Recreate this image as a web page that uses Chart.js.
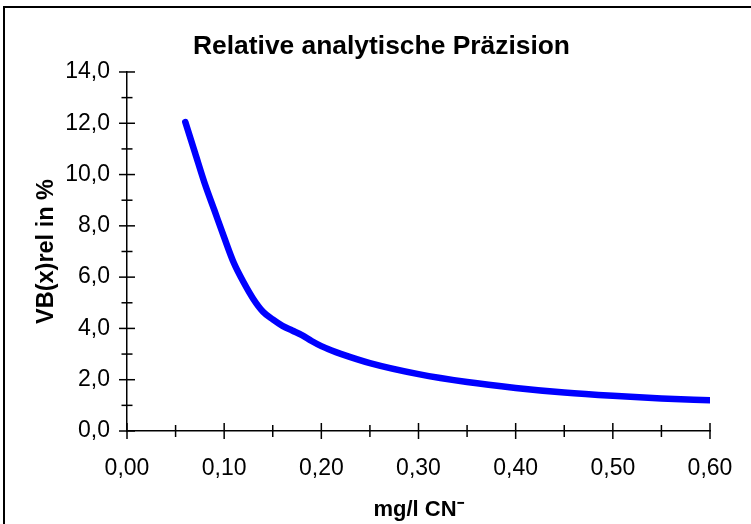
<!DOCTYPE html>
<html>
<head>
<meta charset="utf-8">
<script src="https://cdn.jsdelivr.net/npm/chart.js@4/dist/chart.umd.min.js"></script>
<style>
  html, body { margin: 0; padding: 0; background: #fff; overflow: hidden; }
  #wrap { position: relative; width: 751px; height: 524px; }
  #frame { position: absolute; left: 3px; top: 6px; width: 800px; height: 600px;
           border-top: 2px solid #000; border-left: 2px solid #000; pointer-events: none; }
</style>
</head>
<body>
<div id="wrap">
  <canvas id="precisionChart"></canvas>
  <div id="frame"></div>
</div>
<script>
// concentration mg/l CN- and relative precision in %
const concentrations = [0.06, 0.07, 0.08, 0.09, 0.10, 0.11, 0.12, 0.13, 0.14, 0.15, 0.16, 0.17,
                        0.18, 0.19, 0.20, 0.21, 0.22, 0.25, 0.30, 0.35, 0.40, 0.45, 0.50, 0.55, 0.60];
const vbRel = [12.05, 10.85, 9.65, 8.6, 7.55, 6.55, 5.8, 5.15, 4.65, 4.35, 4.1, 3.92,
               3.74, 3.51, 3.31, 3.15, 3.01, 2.65, 2.22, 1.91, 1.68, 1.5, 1.37, 1.27, 1.2];

const chartTitle = 'Relative analytische Präzision';
const yTitle = 'VB(x)rel in %';
const xTitle = 'mg/l CN\u207B';

const FONT = '"Liberation Sans", Arial, sans-serif';

// tick marks that cross the axis line (major long, minor short)
const crossTicks = {
  id: 'crossTicks',
  afterDraw(chart) {
    const ctx = chart.ctx;
    const xs = chart.scales.x, ys = chart.scales.y;
    ctx.save();
    ctx.strokeStyle = '#000';
    ctx.lineWidth = 1.5;
    ys.ticks.forEach(t => {
      const p = ys.getPixelForValue(t.value);
      const half = t.label !== '' ? 8 : 5.5;
      ctx.beginPath();
      ctx.moveTo(xs.left - half, p);
      ctx.lineTo(xs.left + half, p);
      ctx.stroke();
    });
    xs.ticks.forEach(t => {
      const p = xs.getPixelForValue(t.value);
      const half = t.label !== '' ? 8 : 6;
      ctx.beginPath();
      ctx.moveTo(p, ys.bottom - half);
      ctx.lineTo(p, ys.bottom + half);
      ctx.stroke();
    });
    ctx.restore();
  }
};

const ctx = document.getElementById('precisionChart').getContext('2d');
const myChart = new Chart(ctx, {
  type: 'line',
  data: {
    datasets: [{
      data: concentrations.map((c, i) => ({ x: c, y: vbRel[i] })),
      borderColor: '#0000ff',
      borderWidth: 6.5,
      borderCapStyle: 'round',
      pointRadius: 0,
      fill: false,
      cubicInterpolationMode: 'monotone'
    }]
  },
  options: {
    responsive: true,
    maintainAspectRatio: false,
    animation: false,
    layout: { padding: { left: 12, right: 0, top: 0, bottom: 0 } },
    plugins: {
      legend: { display: false },
      tooltip: { enabled: false },
      title: {
        display: true,
        text: chartTitle,
        color: '#000',
        font: { family: FONT, size: 26.4, weight: 'bold', lineHeight: 1.2 },
        padding: { top: 30.5, bottom: 9.8 }
      }
    },
    scales: {
      x: {
        type: 'linear',
        min: 0, max: 0.6,
        afterFit(scale) { scale.height = 93; scale.paddingRight = 41; },
        grid: { display: true, drawOnChartArea: false, drawTicks: false },
        border: { display: true, color: '#000', width: 1.5 },
        ticks: {
          stepSize: 0.05,
          autoSkip: false,
          maxRotation: 0,
          padding: 24,
          color: '#000',
          font: { family: FONT, size: 23 },
          callback: v => Math.round(v * 100) % 10 === 0 ? v.toFixed(2).replace('.', ',') : ''
        },
        title: {
          display: true,
          text: xTitle,
          color: '#000',
          font: { family: FONT, size: 22, weight: 'bold', lineHeight: 1.2 },
          padding: { top: 4, bottom: 1 }
        }
      },
      y: {
        min: 0, max: 14,
        afterFit(scale) { scale.width = 115; },
        grid: { display: true, drawOnChartArea: false, drawTicks: false },
        border: { display: true, color: '#000', width: 1.5 },
        ticks: {
          stepSize: 1,
          autoSkip: false,
          padding: 17,
          color: '#000',
          font: { family: FONT, size: 23 },
          callback: v => Math.round(v) % 2 === 0 ? v.toFixed(1).replace('.', ',') : ''
        },
        title: {
          display: true,
          text: yTitle,
          color: '#000',
          font: { family: FONT, size: 23.5, weight: 'bold', lineHeight: 1.2 },
          padding: { top: 20.4, bottom: 0 }
        }
      }
    }
  },
  plugins: [crossTicks]
});
</script>
</body>
</html>
